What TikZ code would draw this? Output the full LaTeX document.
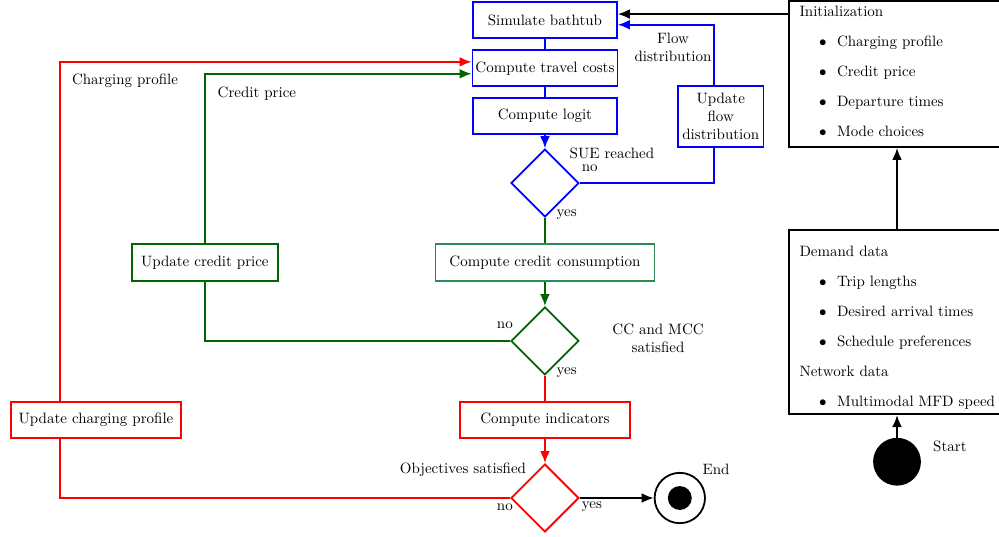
\documentclass[tikz,border=0pt]{standalone}
\usepackage{xcolor}
\usepackage{amsmath}
\usepackage{tikz}
\usetikzlibrary{shapes.geometric}
\usetikzlibrary{arrows.meta}
\definecolor{darkgreen}{RGB}{0,100,0}
\definecolor{seagreen}{RGB}{46,139,87}
\newcommand{\listitem}[1]{\hspace*{13pt}\makebox[12pt][l]{$\bullet$}\mbox{#1}}
\tikzset{
	box/.style={draw, rectangle, line width=1.2pt, inner sep=2pt, minimum height=0.84cm},
	decision/.style={draw, diamond, line width=1.2pt, inner sep=0pt, minimum width=1.59cm, minimum height=1.59cm},
	link/.style={line width=1.2pt},
	arrowlink/.style={line width=1.2pt, -{Latex[length=8pt,width=6.5pt]}},
	datalist/.style={draw, rectangle, line width=1.2pt, align=left, text width=4.57cm, inner xsep=7pt, minimum width=5.06cm}
}

\begin{document}
\begin{tikzpicture}
		\useasboundingbox (0,0) rectangle (23.41,12.58);
		
		% Bathtub loop - blue
		\node[box, draw=blue, minimum width=3.37cm] (bathtub) at (12.77,12.11) {Simulate bathtub};
		\node[box, draw=blue, minimum width=3.37cm] (travel) at (12.77,10.98) {Compute travel costs};
		\node[box, draw=blue, minimum width=3.37cm] (logit) at (12.77,9.86) {Compute logit};
		\node[decision, draw=blue] (sue) at (12.77,8.29) {};
		\node[box, draw=blue, align=center, minimum width=2.0cm, minimum height=1.43cm] (flowbox) at (16.89,9.85) {Update\\flow\\distribution};
		\node[align=center] (flowlbl) at (15.77,11.48) {Flow\\distribution};
		\node (suelbl) at (14.34,8.99) {SUE reached};
		\node (sueno) at (13.82,8.64) {no};
		\node (sueyes) at (13.28,7.54) {yes};
		
		% Credit loop - green
		\node[box, draw=seagreen, minimum width=5.13cm, minimum height=0.87cm] (ccons) at (12.77,6.43) {Compute credit consumption};
		\node[decision, draw=darkgreen] (ccdia) at (12.77,4.59) {};
		\node[box, draw=darkgreen, minimum width=3.42cm, minimum height=0.87cm] (upcredit) at (4.80,6.43) {Update credit price};
		\node (creditlbl) at (6.02,10.38) {Credit price};
		\node (ccno) at (11.83,4.97) {no};
		\node[align=center] (cclbl) at (15.42,4.66) {CC and MCC\\satisfied};
		\node (ccyes) at (13.28,3.84) {yes};
		
		% Charging loop - red
		\node[box, draw=red, minimum width=3.98cm] (indic) at (12.77,2.74) {Compute indicators};
		\node[decision, draw=red] (obj) at (12.77,0.91) {};
		\node[box, draw=red, minimum width=3.98cm] (upcharge) at (2.25,2.74) {Update charging profile};
		\node (chargelbl) at (2.93,10.68) {Charging profile};
		\node (objlbl) at (10.85,1.57) {Objectives satisfied};
		\node (objno) at (11.83,0.70) {no};
		\node (objyes) at (13.87,0.70) {yes};
		
		% End
		\node[circle, draw, line width=1.2pt, minimum size=1.18cm] (finish) at (15.93,0.91) {};
		\node[circle, fill=black, minimum size=0.56cm] (finishdot) at (finish) {};
		\node (endlbl) at (16.78,1.57) {End};
		
		% Data and start
		\node[datalist, minimum height=3.42cm] (init) at (21.02,10.85) {Initialization\\[8pt]
			\listitem{Charging profile}\\[8pt]
			\listitem{Credit price}\\[8pt]
			\listitem{Departure times}\\[8pt]
			\listitem{Mode choices}\\[-8pt]\mbox{}};
		\node[datalist, minimum height=4.24cm] (demand) at (21.02,5.03) {\mbox{}\\[2pt]Demand data\\[8pt]
			\listitem{Trip lengths}\\[8pt]
			\listitem{Desired arrival times}\\[8pt]
			\listitem{Schedule preferences}\\[8pt]
			Network data\\[8pt]
			\listitem{Multimodal MFD speed}};
		\node[circle, fill=black, minimum size=1.12cm] (start) at (21.02,1.76) {};
		\node (startlbl) at (22.26,2.13) {Start};
		
		% Connectors
		\draw[link, blue] (bathtub) -- (travel);
		\draw[link, blue] (travel) -- (logit);
		\draw[arrowlink, blue] (logit) -- (sue);
		\draw[link, blue] (sue.east) -| ([xshift=-0.15cm]flowbox.south);
		\draw[arrowlink, blue] ([xshift=-0.15cm]flowbox.north) |- ([yshift=-0.11cm]bathtub.east);
		\draw[arrowlink] ([yshift=0.14cm]bathtub.east -| init.west) -- ([yshift=0.14cm]bathtub.east);
		
		\draw[link, darkgreen] (sue) -- (ccons);
		\draw[arrowlink, darkgreen] (ccons) -- (ccdia);
		\draw[link, darkgreen] (ccdia.west) -| (upcredit.south);
		\draw[arrowlink, darkgreen] (upcredit.north) |- ([yshift=-0.13cm]travel.west);
		
		\draw[link, red] (ccdia) -- (indic);
		\draw[arrowlink, red] (indic) -- (obj);
		\draw[link, red] (obj.west) -| ([xshift=-0.84cm]upcharge.south);
		\draw[arrowlink, red] ([xshift=-0.84cm]upcharge.north) |- ([yshift=0.15cm]travel.west);
		\draw[arrowlink] (obj.east) -- (finish.west);
		
		\draw[arrowlink] (start) -- (demand);
		\draw[arrowlink] (demand) -- (init);
	\end{tikzpicture}
\end{document}
